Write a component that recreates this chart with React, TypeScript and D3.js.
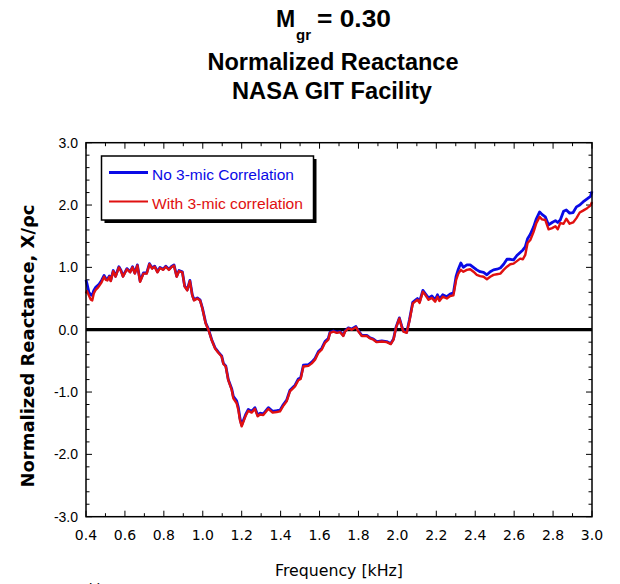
import React from "react";
import * as d3 from "d3";

// Frequency samples [kHz]
const freq = [
  0.400, 0.405, 0.415, 0.425, 0.432, 0.440, 0.450, 0.460, 0.467, 0.480,
  0.493, 0.502, 0.510, 0.520, 0.527, 0.540, 0.552, 0.569, 0.580, 0.590,
  0.610, 0.627, 0.639, 0.651, 0.664, 0.678, 0.695, 0.712, 0.726, 0.740,
  0.753, 0.767, 0.780, 0.797, 0.810, 0.826, 0.838, 0.852, 0.866, 0.878,
  0.895, 0.907, 0.920, 0.934, 0.946, 0.955, 0.972, 0.986, 0.998, 1.015,
  1.029, 1.046, 1.063, 1.080, 1.097, 1.106, 1.118, 1.131, 1.149, 1.157,
  1.174, 1.183, 1.191, 1.200, 1.212, 1.222, 1.234, 1.251, 1.268, 1.282,
  1.294, 1.311, 1.337, 1.359, 1.380, 1.397, 1.414, 1.431, 1.448, 1.474,
  1.491, 1.503, 1.517, 1.543, 1.560, 1.577, 1.594, 1.611, 1.628, 1.645,
  1.654, 1.671, 1.689, 1.706, 1.722, 1.731, 1.748, 1.765, 1.787, 1.800,
  1.817, 1.843, 1.860, 1.877, 1.894, 1.920, 1.945, 1.966, 1.980, 1.993,
  2.010, 2.022, 2.031, 2.048, 2.062, 2.079, 2.091, 2.103, 2.114, 2.131,
  2.143, 2.160, 2.177, 2.194, 2.206, 2.216, 2.233, 2.254, 2.271, 2.288,
  2.302, 2.313, 2.326, 2.339, 2.357, 2.374, 2.391, 2.408, 2.425, 2.443,
  2.460, 2.477, 2.494, 2.511, 2.529, 2.546, 2.563, 2.580, 2.597, 2.614,
  2.631, 2.645, 2.657, 2.669, 2.683, 2.700, 2.714, 2.731, 2.743, 2.760,
  2.777, 2.795, 2.812, 2.824, 2.837, 2.854, 2.868, 2.885, 2.903, 2.920,
  2.937, 2.954, 2.975, 2.992, 3.000,
];

// No 3-mic Correlation (blue)
const noCorrelation = [
  0.80, 0.74, 0.60, 0.56, 0.55, 0.63, 0.68, 0.71, 0.73, 0.79,
  0.87, 0.82, 0.81, 0.86, 0.79, 0.95, 0.86, 1.01, 0.95, 0.86,
  0.98, 0.93, 1.01, 0.91, 1.04, 0.78, 0.91, 0.91, 1.06, 0.99,
  1.02, 0.93, 1.00, 0.97, 1.02, 0.97, 1.01, 1.04, 0.86, 0.95,
  0.93, 0.70, 0.64, 0.79, 0.56, 0.48, 0.51, 0.48, 0.35, 0.11,
  0.01, -0.16, -0.29, -0.36, -0.42, -0.54, -0.58, -0.80, -0.95, -1.07,
  -1.14, -1.25, -1.42, -1.53, -1.43, -1.35, -1.28, -1.31, -1.25, -1.37,
  -1.34, -1.35, -1.25, -1.31, -1.30, -1.29, -1.20, -1.13, -0.97, -0.89,
  -0.79, -0.77, -0.57, -0.56, -0.52, -0.46, -0.35, -0.30, -0.19, -0.14,
  -0.04, -0.02, -0.04, -0.03, -0.09, -0.02, 0.03, 0.01, 0.05, -0.02,
  -0.09, -0.09, -0.13, -0.15, -0.19, -0.18, -0.19, -0.22, -0.15, 0.04,
  0.19, 0.06, -0.02, -0.04, 0.16, 0.44, 0.47, 0.50, 0.45, 0.63,
  0.58, 0.51, 0.54, 0.48, 0.56, 0.49, 0.56, 0.53, 0.57, 0.59,
  0.86, 0.97, 1.07, 1.00, 1.04, 1.04, 1.00, 0.96, 0.93, 0.92,
  0.88, 0.93, 0.96, 0.97, 0.99, 1.05, 1.13, 1.13, 1.12, 1.19,
  1.24, 1.28, 1.33, 1.46, 1.53, 1.65, 1.78, 1.89, 1.85, 1.81,
  1.68, 1.72, 1.75, 1.72, 1.76, 1.90, 1.92, 1.87, 1.88, 1.97,
  2.00, 2.05, 2.10, 2.14, 2.22,
];

// With 3-mic correlation (red)
const withCorrelation = [
  0.58, 0.62, 0.55, 0.48, 0.47, 0.58, 0.64, 0.67, 0.70, 0.76,
  0.85, 0.80, 0.79, 0.85, 0.78, 0.94, 0.85, 1.00, 0.94, 0.85,
  0.97, 0.92, 1.00, 0.90, 1.03, 0.77, 0.90, 0.90, 1.05, 0.98,
  1.01, 0.92, 0.99, 0.96, 1.01, 0.96, 1.00, 1.03, 0.85, 0.94,
  0.92, 0.69, 0.63, 0.78, 0.55, 0.47, 0.50, 0.47, 0.34, 0.10,
  0.00, -0.17, -0.30, -0.37, -0.43, -0.55, -0.59, -0.81, -0.97, -1.10,
  -1.18, -1.29, -1.45, -1.55, -1.45, -1.37, -1.30, -1.33, -1.27, -1.39,
  -1.36, -1.37, -1.27, -1.33, -1.32, -1.31, -1.22, -1.15, -0.99, -0.91,
  -0.81, -0.79, -0.59, -0.58, -0.54, -0.48, -0.37, -0.32, -0.21, -0.16,
  -0.05, -0.03, -0.05, -0.04, -0.10, -0.03, 0.02, 0.00, 0.04, -0.03,
  -0.10, -0.10, -0.14, -0.16, -0.20, -0.19, -0.20, -0.23, -0.16, 0.03,
  0.18, 0.05, -0.03, -0.05, 0.14, 0.42, 0.45, 0.48, 0.43, 0.61,
  0.56, 0.48, 0.51, 0.45, 0.53, 0.46, 0.53, 0.50, 0.54, 0.55,
  0.80, 0.90, 0.96, 0.93, 0.96, 0.97, 0.93, 0.88, 0.86, 0.85,
  0.81, 0.85, 0.88, 0.89, 0.90, 0.96, 1.01, 1.05, 1.06, 1.10,
  1.14, 1.13, 1.20, 1.39, 1.44, 1.57, 1.71, 1.81, 1.77, 1.76,
  1.61, 1.63, 1.66, 1.61, 1.71, 1.70, 1.78, 1.70, 1.72, 1.79,
  1.88, 1.91, 1.95, 1.99, 2.05,
];

const xTickValues = [0.4, 0.6, 0.8, 1.0, 1.2, 1.4, 1.6, 1.8, 2.0, 2.2, 2.4, 2.6, 2.8, 3.0];
const yTickValues = [-3, -2, -1, 0, 1, 2, 3];

const seriesNames = ["No 3-mic Correlation", "With 3-mic correlation"];
const seriesColors = ["#0a0ae6", "#e01010"];

const titleFont = '"Liberation Sans", Arial, sans-serif';
const verdanaFont = '"DejaVu Sans", Verdana, sans-serif';

export default function App() {
  const left = 86, right = 592, top = 142.7, bottom = 516.7;
  const x = d3.scaleLinear().domain([0.4, 3.0]).range([left, right]);
  const y = d3.scaleLinear().domain([-3, 3]).range([bottom, top]);

  const lineGen = d3
    .line<number>()
    .x((_, i) => x(freq[i]))
    .y((d) => y(d));

  const xMinor = d3.range(0, 27).map((i) => 0.4 + i * 0.1);
  const yMinor = d3.range(0, 31).map((i) => -3 + i * 0.2);
  const isMajorX = (v: number) => Math.abs(v * 5 - Math.round(v * 5)) < 1e-6;
  const isMajorY = (v: number) => Math.abs(v - Math.round(v)) < 1e-6;

  const legX = 101.5, legY = 156, legW = 212, legH = 64;

  return (
    <svg
      width={620}
      height={584}
      style={{ position: "absolute", left: 0, top: 0, background: "#fff" }}
    >
      <rect x={0} y={0} width={620} height={584} fill="#fff" />
      {/* Title */}
      <g fontFamily={titleFont} fontWeight="bold" fill="#000">
        <text x={276} y={27} fontSize={23}>M</text>
        <text x={296} y={40} fontSize={15}>gr</text>
        <text x={317} y={27} fontSize={23} textLength={74} lengthAdjust="spacingAndGlyphs">= 0.30</text>
        <text x={333} y={70} fontSize={23} textAnchor="middle" textLength={251} lengthAdjust="spacingAndGlyphs">
          Normalized Reactance
        </text>
        <text x={332} y={99} fontSize={23} textAnchor="middle" textLength={200} lengthAdjust="spacingAndGlyphs">
          NASA GIT Facility
        </text>
      </g>

      {/* Ticks */}
      <g stroke="#000" strokeWidth={1}>
        {xMinor.map((v, i) => {
          const len = isMajorX(v) ? 6 : 3.5;
          return (
            <g key={"xt" + i}>
              <line x1={x(v)} x2={x(v)} y1={bottom} y2={bottom - len} />
              <line x1={x(v)} x2={x(v)} y1={top} y2={top + len} />
            </g>
          );
        })}
        {yMinor.map((v, i) => {
          const len = isMajorY(v) ? 6 : 3.5;
          return (
            <g key={"yt" + i}>
              <line x1={left} x2={left + len} y1={y(v)} y2={y(v)} />
              <line x1={right} x2={right - len} y1={y(v)} y2={y(v)} />
            </g>
          );
        })}
      </g>

      {/* Zero line */}
      <line x1={left} x2={right} y1={y(0)} y2={y(0)} stroke="#000" strokeWidth={3.2} />

      {/* Series */}
      <path d={lineGen(noCorrelation) || ""} fill="none" stroke={seriesColors[0]} strokeWidth={2.8} strokeLinejoin="round" />
      <path d={lineGen(withCorrelation) || ""} fill="none" stroke={seriesColors[1]} strokeWidth={2.4} strokeLinejoin="round" />

      {/* Frame */}
      <rect x={left} y={top} width={right - left} height={bottom - top} fill="none" stroke="#000" strokeWidth={1.5} />

      {/* Tick labels */}
      <g fontFamily={verdanaFont} fontSize={14} fill="#000" textAnchor="middle">
        {xTickValues.map((v) => (
          <text key={"xl" + v} x={x(v)} y={540}>{v.toFixed(1)}</text>
        ))}
      </g>
      <g fontFamily={titleFont} fontSize={14} fill="#000" textAnchor="end">
        {yTickValues.map((v) => (
          <text key={"yl" + v} x={78} y={y(v) + 5}>{v.toFixed(1)}</text>
        ))}
      </g>

      {/* Axis titles */}
      <text x={339} y={576} fontFamily={verdanaFont} fontSize={15} textAnchor="middle" textLength={128} lengthAdjust="spacingAndGlyphs">
        Frequency [kHz]
      </text>
      <text
        transform={`translate(34, 346) rotate(-90)`}
        fontFamily={verdanaFont}
        fontWeight="bold"
        fontSize={18}
        textAnchor="middle"
        textLength={283}
        lengthAdjust="spacingAndGlyphs"
      >
        Normalized Reactance, X/ρc
      </text>

      {/* Legend */}
      <rect x={legX + 3} y={legY + 3} width={legW} height={legH} fill="#000" />
      <rect x={legX} y={legY} width={legW} height={legH} fill="#fff" stroke="#000" strokeWidth={1.5} />
      <line x1={109} x2={148} y1={172.5} y2={172.5} stroke={seriesColors[0]} strokeWidth={3} />
      <line x1={109} x2={148} y1={201.5} y2={201.5} stroke={seriesColors[1]} strokeWidth={2} />
      <text x={152} y={180} fontFamily={titleFont} fontSize={15.5} fill={seriesColors[0]} textLength={142} lengthAdjust="spacingAndGlyphs">
        {seriesNames[0]}
      </text>
      <text x={152} y={208.5} fontFamily={titleFont} fontSize={15.5} fill={seriesColors[1]} textLength={151} lengthAdjust="spacingAndGlyphs">
        {seriesNames[1]}
      </text>

      {/* Cropped caption fragment */}
      <text x={89} y={594} fontFamily={titleFont} fontSize={15} fill="#000">b)</text>
    </svg>
  );
}
